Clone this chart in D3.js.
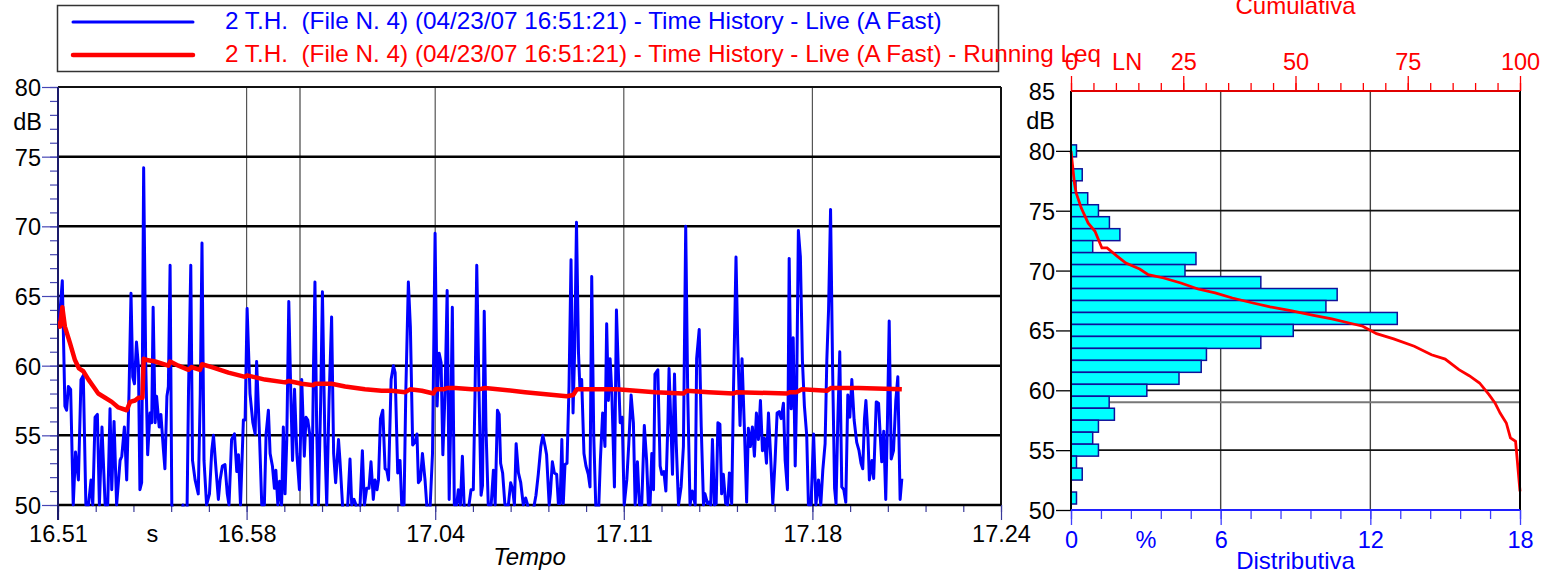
<!DOCTYPE html>
<html><head><meta charset="utf-8">
<script src="https://cdn.jsdelivr.net/npm/d3@7/dist/d3.min.js"></script>
<style>
body{margin:0;background:#fff;}
svg{display:block;font-family:"Liberation Sans",Arial,Helvetica,sans-serif;}
</style>
</head><body>
<svg id="chart" width="1555" height="574"></svg>
<script>
// ---------------- DATA ----------------
const seriesNames = [
  "2 T.H.  (File N. 4) (04/23/07 16:51:21) - Time History - Live (A Fast)",
  "2 T.H.  (File N. 4) (04/23/07 16:51:21) - Time History - Live (A Fast) - Running Leq"
];
const timeTicks = [0, 6.562, 13.124, 19.686, 26.248, 32.81];
const timeTickLabels = ["16.51", "16.58", "17.04", "17.11", "17.18", "17.24"];
const timeUnit = {at: 3.281, label: "s"};
const cursorTimes = [8.42];
const levelTicks = [50, 55, 60, 65, 70, 75, 80];

const levelTimes = [0.03,0.15,0.24,0.30,0.36,0.44,0.53,0.61,0.71,0.80,0.88,0.97,1.06,1.15,1.21,1.29,1.37,1.44,1.53,1.64,1.73,1.81,1.87,1.95,2.04,2.16,2.22,2.31,2.39,2.47,2.54,2.60,2.66,2.73,2.80,2.85,2.91,2.98,3.05,3.12,3.20,3.26,3.31,3.38,3.43,3.52,3.58,3.67,3.72,3.79,3.84,3.90,3.96,4.20,4.35,4.48,4.54,4.62,4.68,4.77,4.88,4.95,5.01,5.08,5.17,5.27,5.35,5.41,5.50,5.58,5.64,5.72,5.81,5.89,5.95,6.04,6.14,6.22,6.28,6.35,6.45,6.51,6.58,6.68,6.78,6.86,6.91,7.00,7.09,7.18,7.24,7.32,7.38,7.46,7.53,7.58,7.65,7.71,7.78,7.84,7.90,7.96,8.03,8.10,8.16,8.23,8.31,8.40,8.48,8.57,8.63,8.69,8.77,8.83,8.89,8.94,9.00,9.06,9.14,9.20,9.29,9.35,9.43,9.52,9.59,9.66,9.76,9.81,9.90,10.00,10.08,10.16,10.22,10.30,10.37,10.45,10.51,10.59,10.66,10.74,10.82,10.89,10.97,11.03,11.10,11.15,11.22,11.30,11.38,11.44,11.50,11.59,11.67,11.73,11.82,11.90,11.96,12.04,12.10,12.19,12.26,12.34,12.42,12.49,12.54,12.61,12.68,12.77,12.83,12.90,12.95,13.03,13.12,13.19,13.26,13.33,13.39,13.47,13.54,13.61,13.67,13.72,13.79,13.87,13.93,14.00,14.07,14.13,14.22,14.30,14.37,14.45,14.51,14.57,14.65,14.72,14.77,14.83,14.89,14.97,15.07,15.15,15.21,15.29,15.35,15.40,15.47,15.55,15.67,15.75,15.82,15.88,15.94,16.02,16.10,16.19,16.27,16.34,16.46,16.57,16.63,16.71,16.80,16.87,16.95,17.00,17.09,17.13,17.20,17.27,17.35,17.41,17.47,17.53,17.58,17.64,17.71,17.78,17.85,17.92,17.98,18.04,18.11,18.16,18.22,18.30,18.37,18.45,18.51,18.57,18.64,18.71,18.80,18.87,18.95,19.03,19.09,19.15,19.21,19.27,19.36,19.43,19.50,19.56,19.63,19.70,19.79,19.86,19.94,20.02,20.08,20.16,20.23,20.31,20.40,20.48,20.54,20.60,20.66,20.72,20.77,20.87,20.95,21.01,21.08,21.15,21.22,21.26,21.32,21.38,21.45,21.51,21.59,21.68,21.76,21.84,21.91,21.99,22.07,22.17,22.22,22.31,22.38,22.46,22.51,22.60,22.65,22.71,22.77,22.84,22.90,22.96,23.03,23.09,23.15,23.23,23.30,23.36,23.44,23.50,23.59,23.65,23.73,23.80,23.88,23.96,24.02,24.09,24.16,24.23,24.30,24.37,24.44,24.51,24.58,24.65,24.72,24.79,24.87,24.95,25.02,25.09,25.16,25.24,25.30,25.38,25.44,25.51,25.58,25.65,25.70,25.76,25.83,25.90,25.97,26.05,26.11,26.20,26.29,26.37,26.46,26.54,26.61,26.69,26.75,26.81,26.88,26.95,27.02,27.07,27.13,27.20,27.27,27.34,27.41,27.48,27.55,27.62,27.70,27.79,27.87,27.94,28.00,28.06,28.11,28.18,28.23,28.32,28.38,28.47,28.55,28.61,28.66,28.73,28.80,28.86,28.92,28.99,29.07,29.15,29.22,29.30,29.36];
const levelValues = [62.8,66.1,57.1,56.8,58.5,58.3,50,53.8,51.8,59.0,59.3,50,50,51.8,50,56.3,56.5,50,55.6,50,50,56.9,51.1,56.0,50,53.2,53.5,55.6,51.8,58.0,65.2,59.2,58.7,61.7,59.9,51.1,51.6,74.2,60.4,53.6,56.6,55.9,64.2,55.9,57.8,55.6,56.5,53.9,52.6,57.8,58.5,67.2,50,48,50,48,58.0,67.2,53.2,51.8,50.8,58.0,68.8,53.2,50,50.8,53.9,55.0,52.5,50.4,51.8,52.8,52.9,50.8,50,54.7,55.1,52.4,53.6,50,56.1,56.1,64.1,58.0,55.9,55.1,60.3,55.6,50,50,55.1,56.8,53.7,52.8,51.2,52.5,50,51.7,50,55.6,50.8,54.7,64.6,58.0,53.2,58.3,53.7,51.1,59.0,53.5,56.3,56.1,54.9,50,60.0,66.0,55.6,50,57.5,65.3,54.2,50,57.5,63.5,53.7,51.6,54.7,53.2,50,48,50,53.3,50,50.4,50,48,50,53.9,50,51.2,51.2,53.1,50.4,51.8,51.1,51.8,56.2,56.8,52.6,52.5,51.8,59.0,60.0,59.5,52.3,53.2,50,50,58.0,66.0,62.8,54.3,54.5,55.1,51.6,51.8,53.7,51.8,50,48,50,53.7,69.5,57.1,60.9,60.2,53.6,58.3,65.4,50.4,56.6,64.2,50,50,51.1,50,53.5,50,48,50,51.1,51.1,58.0,67.2,58.0,50.7,51.4,63.9,55.6,50,50,52.5,50,56.8,56.5,53.0,52.3,50,50,51.6,51.1,50,54.4,52.3,51.6,50,50.5,50,48,50,50.7,52.2,54.2,55.0,54.2,53.6,50,50.8,53.1,52.3,52.2,50.1,50.1,54.7,50.1,52.9,53.0,58.5,67.6,56.6,61.4,70.3,60.9,58.3,59.0,53.7,52.8,52.2,51.3,66.4,55.0,50,49,53.2,56.6,54.2,63.0,57.5,60.5,58.0,51.3,64.0,59.4,55.9,56.3,50,51.8,54.4,57.9,55.9,50,53.1,50,50,55.7,53.2,50,50,53.7,51.1,59.4,59.7,52.8,52.2,52.4,51.0,55.9,59.8,56.1,52.2,59.4,54.4,50,51.3,54.2,70.0,58.0,50,51.0,50,60.5,62.6,55.6,50,50.8,50.1,50.2,50,54.7,50,50.1,55.9,55.8,50.8,52.2,50.1,50,52.3,50.1,58.0,67.8,61.6,55.7,60.5,55.6,50.2,55.5,54.2,55.6,53.5,56.6,54.7,57.5,53.9,54.8,53.0,56.6,53.7,50.1,53.2,56.6,56.7,56.2,57.3,53.2,51.1,67.7,56.9,62.0,52.8,58.1,69.7,67.8,60.4,57.1,55.0,50,50,55.1,50,51.8,50,52.5,54.4,60.4,64.0,71.2,59.9,51.2,50.1,55.9,61.0,51.3,51.1,50.2,57.9,56.3,59.0,56.1,54.5,53.9,53.0,52.6,56.2,57.5,55.0,51.8,53.2,51.9,57.4,57.3,54.9,53.1,55.3,50.4,56.1,63.2,53.3,53.9,57.5,59.2,50.4,51.9];

const leqTimes = [0.01,0.07,0.15,0.24,0.42,0.59,0.73,0.88,1.06,1.23,1.40,1.64,1.87,2.10,2.39,2.51,2.68,2.80,2.94,2.98,3.09,3.38,3.84,3.90,4.19,4.54,4.65,4.94,5.01,5.35,5.93,6.51,6.58,7.20,7.90,8.02,8.48,8.89,8.94,9.52,9.99,10.68,11.26,11.61,12.08,12.25,12.66,13.06,13.14,13.41,13.56,13.82,14.40,14.63,14.86,16.25,17.70,17.93,18.05,18.57,19.44,20.77,21.76,21.88,22.63,23.50,23.62,25.36,25.47,25.70,25.88,26.75,26.90,27.85,29.36];
const leqValues = [63.2,62.8,64.2,62.8,61.6,60.4,59.8,59.6,59.0,58.5,58.0,57.7,57.4,57.0,56.8,57.4,57.5,57.7,57.7,60.5,60.4,60.3,60.0,60.3,60.0,59.7,59.9,59.7,60.1,59.9,59.5,59.2,59.3,59.0,58.8,58.9,58.7,58.6,58.7,58.7,58.5,58.3,58.2,58.2,58.1,58.3,58.2,58.0,58.3,58.3,58.4,58.4,58.3,58.3,58.4,58.1,57.8,57.9,58.3,58.3,58.3,58.1,58.0,58.2,58.1,58.0,58.1,58.0,58.1,58.1,58.3,58.2,58.4,58.4,58.3];

// Distribution panel
const histLevels  = [80,79,78,77,76,75,74,73,72,71,70,69,68,67,66,65,64,63,62,61,60,59,58,57,56,55,54,53,52,51];
const histPercent = [0.22,0,0.45,0.20,0.67,1.10,1.54,1.96,0.87,5.01,4.57,7.61,10.67,10.22,13.08,8.91,7.61,5.43,5.22,4.33,3.04,1.53,1.74,1.10,0.87,1.10,0.22,0.45,0,0.22];
const cumPercent = [0,0.76,1.15,2.29,3.83,5.34,6.88,8.03,10.32,12.22,15.3,17.2,20.64,24.47,28.28,32.1,35.94,40.53,44.34,48.92,54.29,58.1,61.93,64.98,68.05,71.86,76.45,80.28,83.33,86.4,88.69,90.99,93.1,94.43,95.57,96.95,97.87,99.01,99.38,100];
const cumLevels  = [80.0,77.32,76.48,75.22,73.96,73.28,71.89,71.89,71.19,70.63,70.13,69.66,69.38,68.96,68.46,68.13,67.71,67.29,66.96,66.65,66.23,65.96,65.62,65.35,64.73,64.29,63.68,62.97,62.61,61.72,61.22,60.61,59.63,58.94,58.10,57.27,56.02,55.74,54.20,51.56];
const distLevelTicks = [50,55,60,65,70,75,80,85];
const distGridLevels = [55,59,60,65,70,75,80];
const pctTicks = [0,6,12,18];
const pctUnit = {at: 3, label: "%"};
const cumTicks = [0,25,50,75,100];
const cumUnit = {at: 12.5, label: "LN"};
const titles = {x: "Tempo", dist: "Distributiva", cum: "Cumulativa", unit: "dB"};

// ---------------- DRAW ----------------
const svg = d3.select("#chart");
const FS = 23.5, TFS = 24, LFS = 24.3;
const blue = "#0000ff", red = "#ff0000";

// Scales - time history
const x = d3.scaleLinear().domain([0, 32.81]).range([58, 1001]);
const y = d3.scaleLinear().domain([50, 80]).range([505, 87]);
// Scales - distribution
const yr = d3.scaleLinear().domain([50, 85]).range([510, 91]);
const xp = d3.scaleLinear().domain([0, 18]).range([1071, 1520]);
const xc = d3.scaleLinear().domain([0, 100]).range([1071, 1520]);

function styleAxis(g, color, sw) {
  g.select(".domain").remove();
  g.selectAll("line").attr("stroke", color).attr("stroke-width", sw || 1);
  g.selectAll("text").attr("font-size", FS).attr("font-family", "Liberation Sans, Arial, sans-serif");
}
function minorBetween(ticks, n) {
  const out = [];
  for (let i = 0; i < ticks.length - 1; i++)
    for (let k = 0; k < n; k++) out.push(ticks[i] + (ticks[i + 1] - ticks[i]) * k / n);
  out.push(ticks[ticks.length - 1]);
  return out;
}

// ---- Left panel ----
const L = svg.append("g");
L.selectAll(".vg").data(timeTicks.slice(1, -1)).join("line")
  .attr("x1", d => x(d)).attr("x2", d => x(d)).attr("y1", y(80)).attr("y2", y(50))
  .attr("stroke", "#555").attr("stroke-width", 1.2);
L.selectAll(".cur").data(cursorTimes).join("line")
  .attr("x1", d => x(d)).attr("x2", d => x(d)).attr("y1", y(80)).attr("y2", y(50))
  .attr("stroke", "#444").attr("stroke-width", 1.2);
L.selectAll(".hg").data(levelTicks.slice(1, -1)).join("line")
  .attr("x1", x(0)).attr("x2", x(32.81)).attr("y1", d => y(d)).attr("y2", d => y(d))
  .attr("stroke", "#000").attr("stroke-width", 2.5);

const yMinor = L.append("g").attr("transform", `translate(${x(0)},0)`)
  .call(d3.axisLeft(y).tickValues(minorBetween(levelTicks, 5)).tickSize(8).tickFormat(""));
styleAxis(yMinor, "#4646b4", 1.2);
const yMajor = L.append("g").attr("transform", `translate(${x(0)},0)`)
  .call(d3.axisLeft(y).tickValues(levelTicks).tickSize(16).tickPadding(1).tickFormat(d => d));
styleAxis(yMajor, "#4646b4", 1.2);
yMajor.selectAll("text").attr("fill", "#000").attr("dy", "0.36em");
L.append("text").attr("x", x(0) - 16).attr("y", y(77.5)).attr("dy", "0.36em")
  .attr("text-anchor", "end").attr("font-size", FS).text(titles.unit);

const xMinor = L.append("g").attr("transform", `translate(0,${y(50)})`)
  .call(d3.axisBottom(x).tickValues(minorBetween(timeTicks, 5)).tickSize(7).tickFormat(""));
styleAxis(xMinor, "#3a3a9a", 1.2);
const xMajor = L.append("g").attr("transform", `translate(0,${y(50)})`)
  .call(d3.axisBottom(x).tickValues(timeTicks).tickSize(15).tickPadding(5).tickFormat((d, i) => timeTickLabels[i]));
styleAxis(xMajor, "#3a3a9a", 1.2);
xMajor.selectAll("text").attr("fill", "#000");
L.append("text").attr("x", x(timeUnit.at)).attr("y", y(50) + 20).attr("dy", "0.71em")
  .attr("text-anchor", "middle").attr("font-size", FS).text(timeUnit.label);
L.append("text").attr("x", (x(0) + x(32.81)) / 2).attr("y", 565)
  .attr("text-anchor", "middle").attr("font-size", TFS).attr("font-style", "italic").text(titles.x);

// frame
L.append("line").attr("x1", x(0)).attr("x2", x(32.81)).attr("y1", y(80)).attr("y2", y(80)).attr("stroke", "#111").attr("stroke-width", 2);
L.append("line").attr("x1", x(32.81)).attr("x2", x(32.81)).attr("y1", y(80)).attr("y2", y(50)).attr("stroke", "#111").attr("stroke-width", 2);
L.append("line").attr("x1", x(0)).attr("x2", x(32.81)).attr("y1", y(50)).attr("y2", y(50)).attr("stroke", "#000").attr("stroke-width", 2.5);
L.append("line").attr("x1", x(0)).attr("x2", x(0)).attr("y1", y(80)).attr("y2", y(50) + 15).attr("stroke", "#1a1a6a").attr("stroke-width", 2);

svg.append("clipPath").attr("id", "clipL").append("rect")
  .attr("x", x(0)).attr("y", y(80)).attr("width", x(32.81) - x(0)).attr("height", y(50) - y(80) + 1.5);

const levelData = levelTimes.map((t, i) => ({t, v: levelValues[i]}));
const leqData = leqTimes.map((t, i) => ({t, v: leqValues[i]}));
const line = d3.line().x(d => x(d.t)).y(d => y(d.v));
L.append("path").datum(levelData).attr("clip-path", "url(#clipL)")
  .attr("d", line).attr("fill", "none").attr("stroke", blue).attr("stroke-width", 3).attr("stroke-linejoin", "round");
L.append("path").datum(leqData).attr("clip-path", "url(#clipL)")
  .attr("d", line).attr("fill", "none").attr("stroke", red).attr("stroke-width", 4.5).attr("stroke-linejoin", "round");

// ---- Right panel ----
const R = svg.append("g");
R.selectAll(".vg").data(pctTicks.slice(1, -1)).join("line")
  .attr("x1", d => xp(d)).attr("x2", d => xp(d)).attr("y1", yr(85)).attr("y2", yr(50))
  .attr("stroke", "#444").attr("stroke-width", 1.4);
R.selectAll(".hg").data(distGridLevels).join("line")
  .attr("x1", xp(0)).attr("x2", xp(18)).attr("y1", d => yr(d)).attr("y2", d => yr(d))
  .attr("stroke", d => d === 59 ? "#777" : "#111").attr("stroke-width", 1.8);

R.selectAll(".bar").data(histLevels.map((l, i) => ({l, p: histPercent[i]}))).join("rect")
  .attr("x", xp(0)).attr("y", d => yr(d.l + 0.5)).attr("width", d => xp(d.p) - xp(0))
  .attr("height", d => yr(d.l - 0.5) - yr(d.l + 0.5))
  .attr("fill", "#00ffff").attr("stroke", "#10109a").attr("stroke-width", 1.5);

R.append("path").datum(cumPercent.map((p, i) => ({p, l: cumLevels[i]})))
  .attr("d", d3.line().x(d => xc(d.p)).y(d => yr(d.l)))
  .attr("fill", "none").attr("stroke", red).attr("stroke-width", 2.8);

R.append("line").attr("x1", xp(0)).attr("x2", xp(0)).attr("y1", yr(85)).attr("y2", yr(50)).attr("stroke", "#000").attr("stroke-width", 2);
R.append("line").attr("x1", xp(18)).attr("x2", xp(18)).attr("y1", yr(85)).attr("y2", yr(50)).attr("stroke", "#000").attr("stroke-width", 2);

const ryAx = R.append("g").attr("transform", `translate(${xp(0)},0)`)
  .call(d3.axisLeft(yr).tickValues(distLevelTicks).tickSize(15).tickPadding(1).tickFormat(d => d));
styleAxis(ryAx, "#000", 1.3);
ryAx.selectAll("text").attr("fill", "#000").attr("dy", "0.36em");
ryAx.selectAll(".tick").filter(d => d === 85).select("line").remove();
R.append("text").attr("x", xp(0) - 16).attr("y", yr(82.5)).attr("dy", "0.36em")
  .attr("text-anchor", "end").attr("font-size", FS).text(titles.unit);

const rbMinor = R.append("g").attr("transform", `translate(0,${yr(50)})`)
  .call(d3.axisBottom(xp).tickValues(minorBetween(pctTicks, 5)).tickSize(9).tickFormat(""));
styleAxis(rbMinor, "#4040ff", 1.3);
const rbMajor = R.append("g").attr("transform", `translate(0,${yr(50)})`)
  .call(d3.axisBottom(xp).tickValues(pctTicks).tickSize(15).tickPadding(6).tickFormat(d => d));
styleAxis(rbMajor, "#4040ff", 1.3);
rbMajor.selectAll("text").attr("fill", blue);
R.append("line").attr("x1", xp(0)).attr("x2", xp(18)).attr("y1", yr(50)).attr("y2", yr(50)).attr("stroke", "#2020ff").attr("stroke-width", 2);
R.append("text").attr("x", xp(pctUnit.at)).attr("y", yr(50) + 21).attr("dy", "0.71em")
  .attr("text-anchor", "middle").attr("font-size", FS).attr("fill", blue).text(pctUnit.label);
R.append("text").attr("x", (xp(0) + xp(18)) / 2).attr("y", 569)
  .attr("text-anchor", "middle").attr("font-size", TFS).attr("fill", blue).text(titles.dist);

const rtMinor = R.append("g").attr("transform", `translate(0,${yr(85)})`)
  .call(d3.axisTop(xc).tickValues(minorBetween(cumTicks, 5)).tickSize(8).tickFormat(""));
styleAxis(rtMinor, red, 1.3);
const rtMajor = R.append("g").attr("transform", `translate(0,${yr(85)})`)
  .call(d3.axisTop(xc).tickValues(cumTicks).tickSize(15).tickPadding(6).tickFormat(d => d));
styleAxis(rtMajor, red, 1.3);
rtMajor.selectAll("text").attr("fill", red);
R.append("line").attr("x1", xc(0)).attr("x2", xc(100)).attr("y1", yr(85)).attr("y2", yr(85)).attr("stroke", "#e00000").attr("stroke-width", 2);
R.append("text").attr("x", xc(cumUnit.at)).attr("y", yr(85) - 21)
  .attr("text-anchor", "middle").attr("font-size", FS).attr("fill", red).text(cumUnit.label);
R.append("text").attr("x", (xc(0) + xc(100)) / 2).attr("y", 14)
  .attr("text-anchor", "middle").attr("font-size", TFS).attr("fill", red).text(titles.cum);

// ---- Legend ----
const Lg = svg.append("g");
Lg.append("rect").attr("x", 57.5).attr("y", 5.5).attr("width", 941).attr("height", 66)
  .attr("fill", "#fff").attr("stroke", "#333").attr("stroke-width", 1.5);
const legColors = [blue, red], legWidths = [3, 4.5], legY = [22, 55], legBase = [29, 62];
seriesNames.forEach((name, i) => {
  Lg.append("line").attr("x1", 73).attr("x2", 193).attr("y1", legY[i]).attr("y2", legY[i])
    .attr("stroke", legColors[i]).attr("stroke-width", legWidths[i]).attr("stroke-linecap", "round");
  Lg.append("text").attr("x", 225).attr("y", legBase[i])
    .attr("font-size", LFS).attr("fill", legColors[i])
    .style("white-space", "pre").text(name);
});
</script>
</body></html>
